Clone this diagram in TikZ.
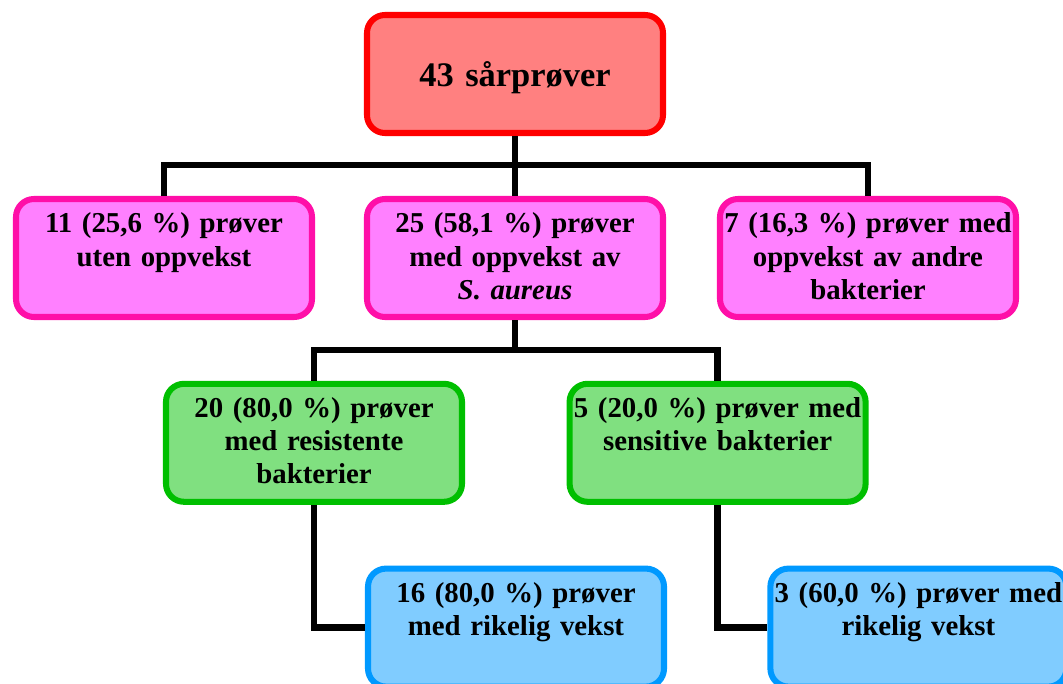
\documentclass[tikz,border=0pt]{standalone}
\usepackage{fontspec}
\setmainfont{Liberation Serif}
\usepackage{xcolor}
\usepackage{tikz}
\definecolor{topC}{rgb}{1,0.5,0.5}
\definecolor{topB}{rgb}{1,0,0}
\definecolor{magC}{rgb}{1,0.5,1}
\definecolor{magB}{rgb}{1,0.06,0.66}
\definecolor{grnC}{rgb}{0.5,0.88,0.5}
\definecolor{grnB}{rgb}{0,0.75,0}
\definecolor{bluC}{rgb}{0.5,0.8,1}
\definecolor{bluB}{rgb}{0,0.6,1}
\tikzset{
  boks/.style={rectangle,rounded corners=0.45cm,line width=4.3pt,inner sep=0pt,
    text width=7.4cm,align=center,text height=0.85cm,text depth=2.1cm,
    font=\fontsize{20.5}{23.5}\selectfont\bfseries},
  conn/.style={line width=4.5pt,black}
}

\begin{document}
\begin{tikzpicture}
        \useasboundingbox (0,0) rectangle (26.575,-17.1);
        \clip (0,0) rectangle (26.575,-17.1);
        \node[boks,draw=topB,fill=topC,text height=1.8cm,text depth=1.15cm,
          font=\fontsize{24.5}{28}\selectfont\bfseries] (top) at (12.875,-1.85) {43 sårprøver};
        \node[boks,draw=magB,fill=magC] (uten) at (4.1,-6.45) {11 (25,6 \%) prøver\\uten oppvekst};
        \node[boks,draw=magB,fill=magC] (saur) at (12.875,-6.45) {25 (58,1 \%) prøver\\med oppvekst av\\\itshape S. aureus};
        \node[boks,draw=magB,fill=magC] (andre) at (21.7,-6.45) {7 (16,3 \%) prøver med\\oppvekst av andre\\bakterier};
        \node[boks,draw=grnB,fill=grnC] (res) at (7.85,-11.07) {20 (80,0 \%) prøver\\med resistente\\bakterier};
        \node[boks,draw=grnB,fill=grnC] (sens) at (17.94,-11.07) {5 (20,0 \%) prøver med\\sensitive bakterier};
        \node[boks,draw=bluB,fill=bluC] (rikA) at (12.9,-15.69) {16 (80,0 \%) prøver\\med rikelig vekst};
        \node[boks,draw=bluB,fill=bluC] (rikB) at (22.96,-15.69) {3 (60,0 \%) prøver med\\rikelig vekst};
        \coordinate (j1) at (12.875,-4.125);
        \coordinate (j2) at (12.875,-8.75);
        \draw[conn] (top.south) -- (j1);
        \draw[conn] (uten.north) |- (j1) -| (andre.north);
        \draw[conn] (j1) -- (saur.north);
        \draw[conn] (saur.south) -- (j2);
        \draw[conn] (res.north) |- (j2) -| (sens.north);
        \draw[conn] (res.south) |- (rikA.west);
        \draw[conn] (sens.south) |- (rikB.west);
        \end{tikzpicture}
\end{document}
